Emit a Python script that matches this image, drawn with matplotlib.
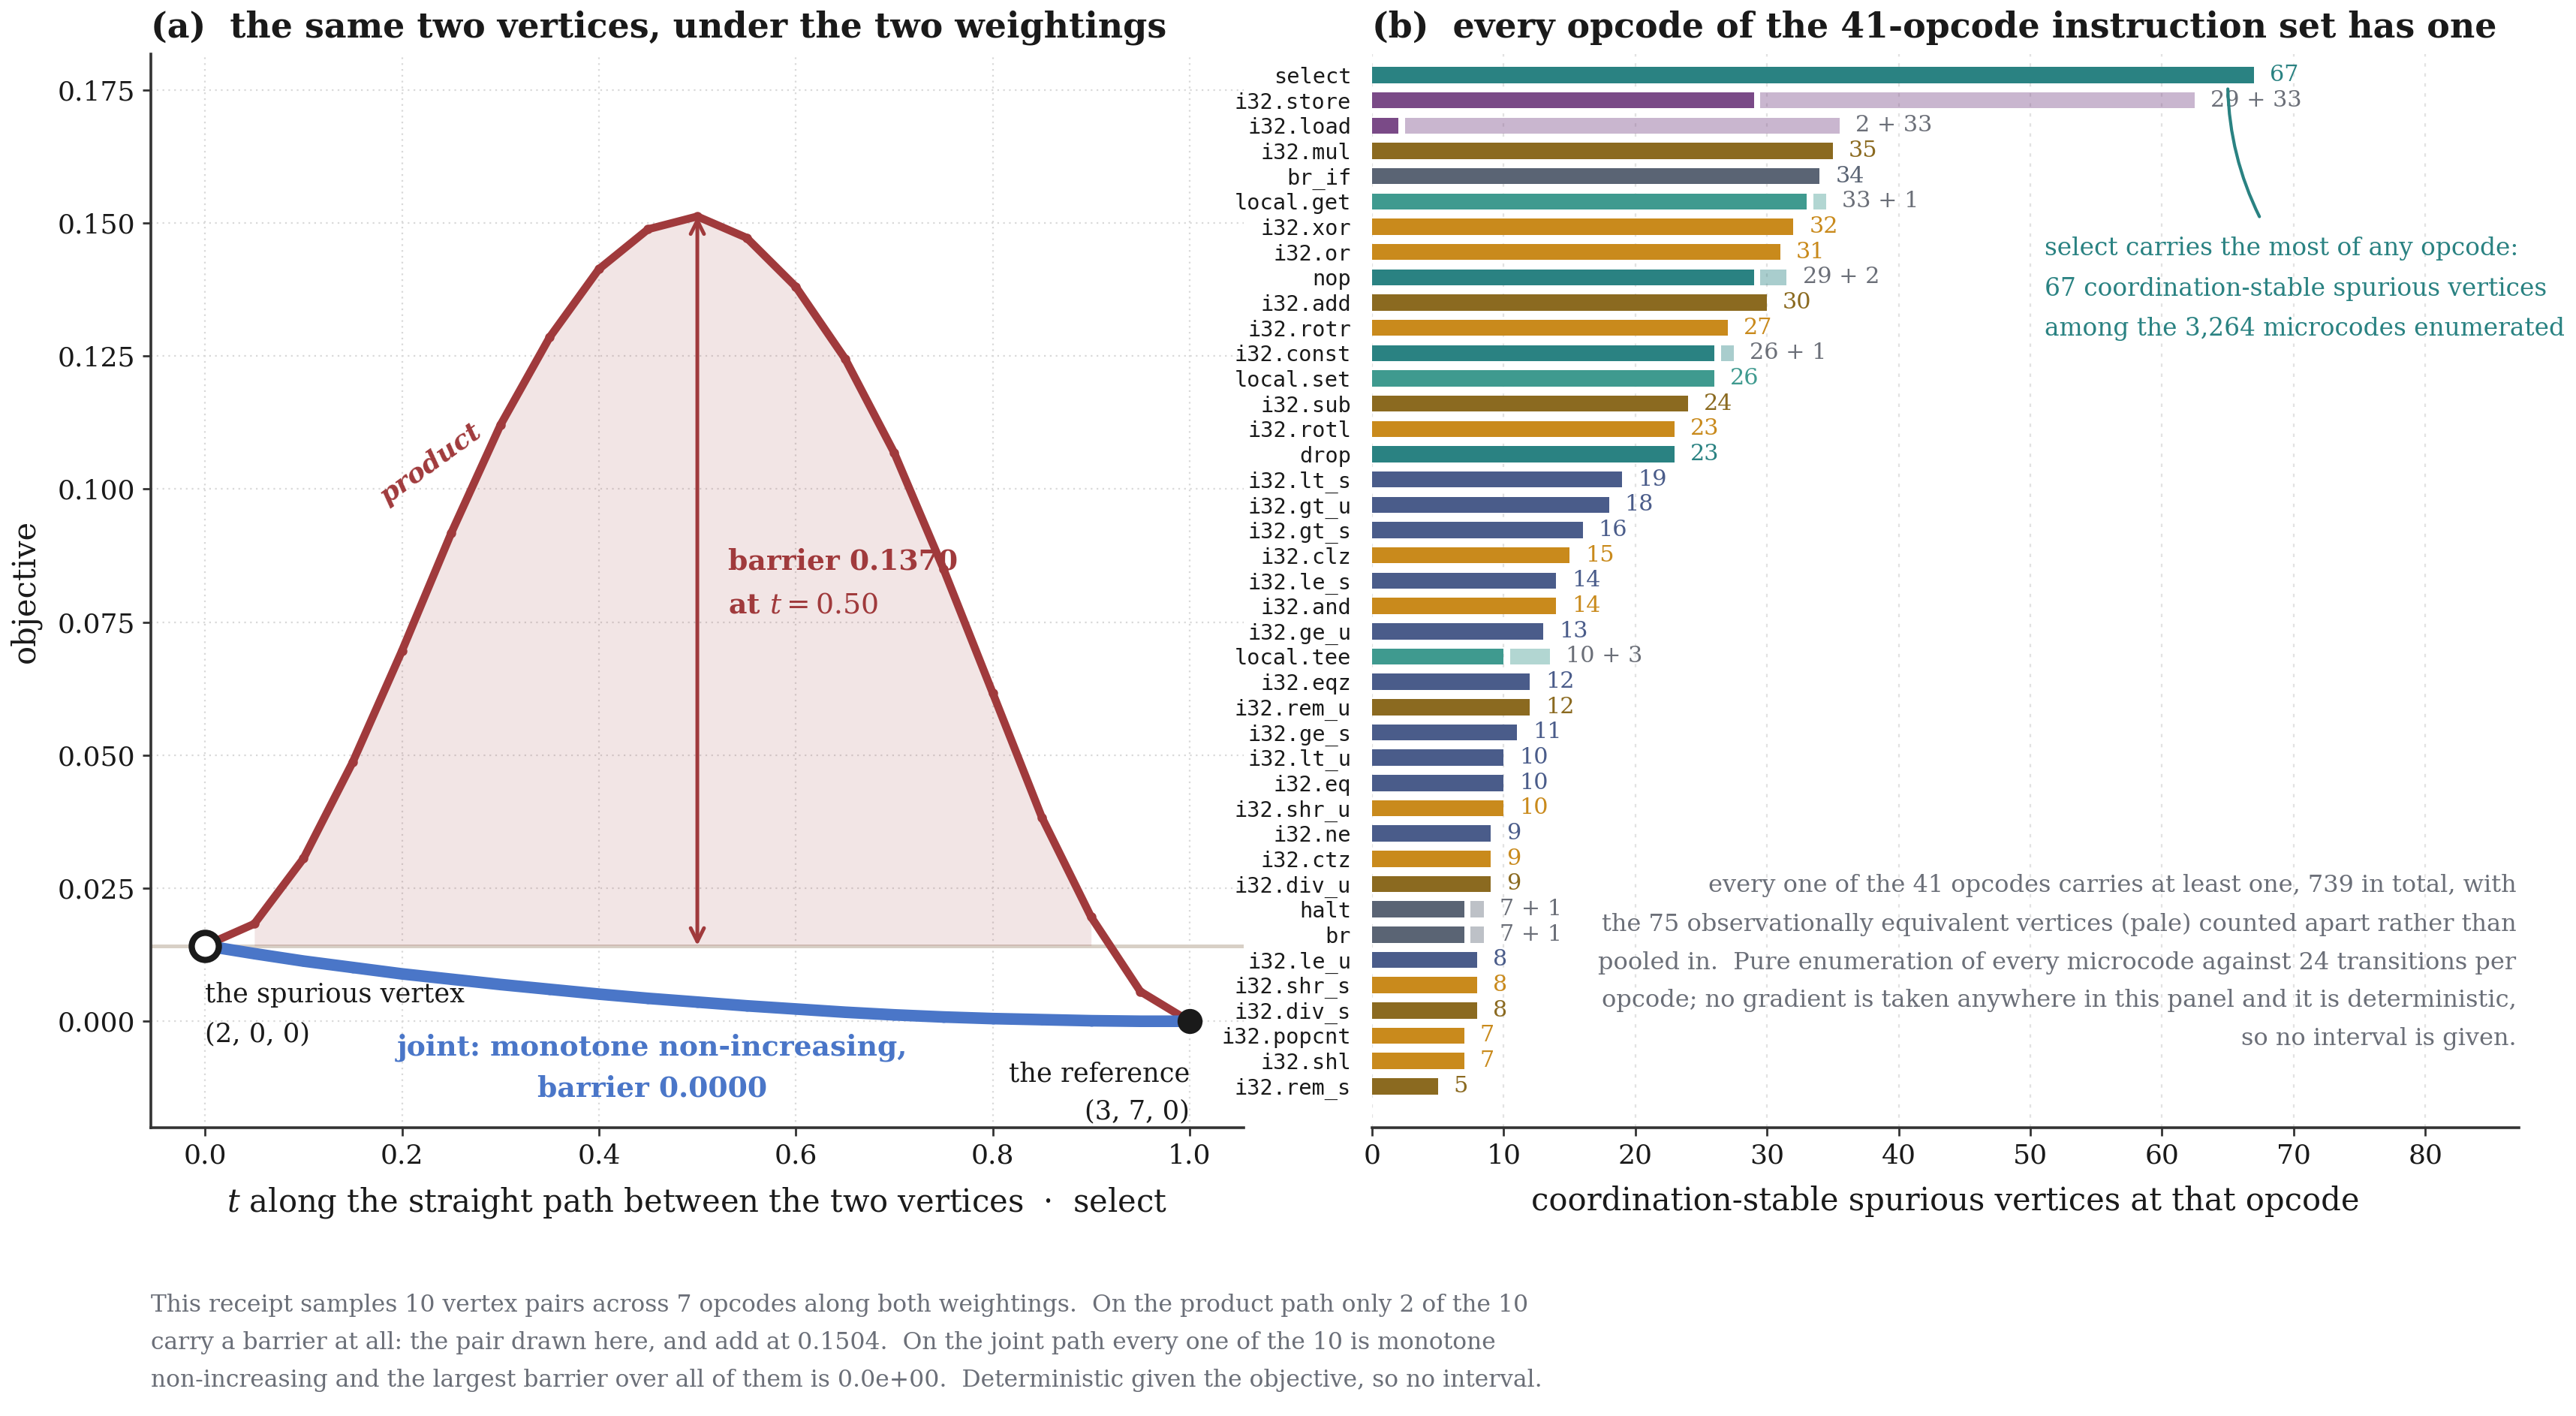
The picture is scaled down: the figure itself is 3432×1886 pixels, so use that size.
import matplotlib
matplotlib.use('Agg')
import matplotlib.pyplot as plt

plt.rcParams['font.family'] = ['DejaVu Serif']
plt.rcParams['mathtext.fontset'] = 'dejavuserif'

# ---------------- data: panel (a) ----------------
t_vals = [0.00, 0.05, 0.10, 0.15, 0.20, 0.25, 0.30, 0.35, 0.40, 0.45, 0.50,
          0.55, 0.60, 0.65, 0.70, 0.75, 0.80, 0.85, 0.90, 0.95, 1.00]
product_vals = [0.0142, 0.0183, 0.0306, 0.0487, 0.0696, 0.0917, 0.1120, 0.1285,
                0.1413, 0.1488, 0.1512, 0.1472, 0.1380, 0.1245, 0.1068, 0.0850,
                0.0617, 0.0383, 0.0196, 0.0056, 0.0000]
joint_vals = [0.0142, 0.0127, 0.0113, 0.0101, 0.0089, 0.0079, 0.0069, 0.0060,
              0.0051, 0.0043, 0.0036, 0.0029, 0.0023, 0.0017, 0.0012, 0.0008,
              0.0005, 0.0003, 0.0001, 0.0000, 0.0000]
start_value = 0.0142
barrier_t = 0.50
barrier_peak = 0.1512

# ---------------- data: panel (b) ----------------
opcodes = ["select", "i32.store", "i32.load", "i32.mul", "br_if", "local.get",
           "i32.xor", "i32.or", "nop", "i32.add", "i32.rotr", "i32.const",
           "local.set", "i32.sub", "i32.rotl", "drop", "i32.lt_s", "i32.gt_u",
           "i32.gt_s", "i32.clz", "i32.le_s", "i32.and", "i32.ge_u", "local.tee",
           "i32.eqz", "i32.rem_u", "i32.ge_s", "i32.lt_u", "i32.eq", "i32.shr_u",
           "i32.ne", "i32.ctz", "i32.div_u", "halt", "br", "i32.le_u",
           "i32.shr_s", "i32.div_s", "i32.popcnt", "i32.shl", "i32.rem_s"]
main_counts = [67, 29, 2, 35, 34, 33, 32, 31, 29, 30, 27, 26, 26, 24, 23, 23,
               19, 18, 16, 15, 14, 14, 13, 10, 12, 12, 11, 10, 10, 10, 9, 9, 9,
               7, 7, 8, 8, 8, 7, 7, 5]
pale_counts = [0, 33, 33, 0, 0, 1, 0, 0, 2, 0, 0, 1, 0, 0, 0, 0,
               0, 0, 0, 0, 0, 0, 0, 3, 0, 0, 0, 0, 0, 0, 0, 0, 0,
               1, 1, 0, 0, 0, 0, 0, 0]
groups = ["teal", "purple", "purple", "brown", "slate", "tealgreen",
          "orange", "orange", "teal", "brown", "orange", "teal",
          "tealgreen", "brown", "orange", "teal", "blue", "blue",
          "blue", "orange", "blue", "orange", "blue", "tealgreen",
          "blue", "brown", "blue", "blue", "blue", "orange",
          "blue", "orange", "brown", "slate", "slate", "blue",
          "orange", "brown", "orange", "orange", "brown"]

group_colors = {"teal": "#2a8282", "tealgreen": "#3f9a8f", "purple": "#7a4a87",
                "brown": "#8b6a20", "orange": "#c98a1c", "slate": "#5a6474",
                "blue": "#4a5c8a"}

RED = "#a03a3c"
BLUE = "#4a76c8"
GRAY = "#6b6f78"
DARK = "#1a1a1a"
TEAL = "#2a8282"

fig = plt.figure(figsize=(17.16, 9.43), dpi=200)

# ================= panel (a) =================
ax = fig.add_axes([0.0586, 0.2036, 0.4242, 0.7582])
ax.set_xlim(-0.055, 1.055)
ax.set_ylim(-0.020, 0.1817)
ax.grid(True, linestyle=(0, (1, 2.5)), color="#d9d9d9", linewidth=0.8)
ax.set_axisbelow(True)
for s in ["top", "right"]:
    ax.spines[s].set_visible(False)
for s in ["left", "bottom"]:
    ax.spines[s].set_color("#333333")
    ax.spines[s].set_linewidth(1.3)
ax.tick_params(axis="both", labelsize=13, colors="#333333", labelcolor=DARK,
               length=4, width=1.0)
ax.set_yticks([0.000, 0.025, 0.050, 0.075, 0.100, 0.125, 0.150, 0.175])
ax.set_yticklabels(["0.000", "0.025", "0.050", "0.075", "0.100", "0.125", "0.150", "0.175"])
ax.set_xticks([0.0, 0.2, 0.4, 0.6, 0.8, 1.0])

ax.axhline(start_value, color="#d8d0c6", linewidth=1.8, zorder=1)
base_line = [start_value] * len(t_vals)
ax.fill_between(t_vals, product_vals, base_line,
                where=[p > start_value for p in product_vals],
                color=RED, alpha=0.13, linewidth=0, zorder=1)
ax.plot(t_vals, product_vals, color=RED, linewidth=3.8, marker="o",
        markersize=3.5, zorder=3)
ax.plot(t_vals, joint_vals, color=BLUE, linewidth=5.6, marker="o",
        markersize=4.0, zorder=3, solid_capstyle="round")

ax.annotate("", xy=(barrier_t, barrier_peak), xytext=(barrier_t, start_value),
            arrowprops=dict(arrowstyle="<->", color=RED, lw=1.8,
                            shrinkA=0, shrinkB=0, mutation_scale=16), zorder=4)
ax.text(0.531, 0.0863, "barrier 0.1370", color=RED, fontsize=13.6,
        fontweight="bold", va="center", ha="left")
ax.text(0.531, 0.0782, "at $t = 0.50$", color=RED, fontsize=13.6,
        fontweight="bold", va="center", ha="left")
ax.text(0.229, 0.1047, "product", color=RED, fontsize=13, fontweight="bold",
        fontstyle="italic", rotation=36, ha="center", va="center")
ax.text(0.454, -0.0049, "joint: monotone non-increasing,", color=BLUE,
        fontsize=13.6, fontweight="bold", ha="center", va="center")
ax.text(0.454, -0.0126, "barrier 0.0000", color=BLUE,
        fontsize=13.6, fontweight="bold", ha="center", va="center")

ax.plot([t_vals[0]], [start_value], marker="o", markersize=13,
        markerfacecolor="white", markeredgecolor=DARK, markeredgewidth=3.0,
        zorder=5, linestyle="none")
ax.plot([t_vals[-1]], [joint_vals[-1]], marker="o", markersize=11,
        color=DARK, zorder=5, linestyle="none")
ax.text(0.0, 0.0049, "the spurious vertex", color=DARK, fontsize=12.7,
        ha="left", va="center")
ax.text(0.0, -0.0025, "(2, 0, 0)", color=DARK, fontsize=12.7,
        ha="left", va="center")
ax.text(1.0, -0.0099, "the reference", color=DARK, fontsize=12.7,
        ha="right", va="center")
ax.text(1.0, -0.0169, "(3, 7, 0)", color=DARK, fontsize=12.7,
        ha="right", va="center")

ax.set_ylabel("objective", fontsize=15, color=DARK, labelpad=8)
ax.set_xlabel("$t$ along the straight path between the two vertices  ·  select",
              fontsize=15, color=DARK, labelpad=8)
ax.set_title("(a)  the same two vertices, under the two weightings",
             loc="left", fontsize=16.5, fontweight="bold", color=DARK, pad=8)

# ================= panel (b) =================
bx = fig.add_axes([0.5326, 0.2036, 0.4452, 0.7582])
n = len(opcodes)
ypos = list(range(n))
bar_h = 0.64
bar_colors = [group_colors[g] for g in groups]
bx.barh(ypos, main_counts, height=bar_h, color=bar_colors, zorder=2)
for i in range(n):
    m = main_counts[i]
    p = pale_counts[i]
    c = bar_colors[i]
    if p > 0:
        bx.barh(i, p, left=m + 0.5, height=bar_h, color=c, alpha=0.4,
                linewidth=0, zorder=2)
        bx.text(m + 0.5 + p + 1.2, i, f"{m} + {p}", color=GRAY, fontsize=10.9,
                va="center", ha="left")
    else:
        bx.text(m + 1.2, i, f"{m}", color=c, fontsize=10.9, va="center", ha="left")

bx.set_xlim(0, 87.1)
bx.set_ylim(41.64, -0.83)
bx.set_yticks(ypos)
bx.set_yticklabels(opcodes, family=["DejaVu Sans Mono"], fontsize=10.3, color=DARK)
bx.tick_params(axis="y", length=0, pad=10)
bx.set_xticks([0, 10, 20, 30, 40, 50, 60, 70, 80])
bx.tick_params(axis="x", labelsize=13, colors="#333333", labelcolor=DARK,
               length=4, width=1.0)
bx.grid(True, axis="x", linestyle=(0, (2, 4)), color="#e2e2e2", linewidth=0.8)
bx.set_axisbelow(True)
for s in ["top", "right", "left"]:
    bx.spines[s].set_visible(False)
bx.spines["bottom"].set_color("#333333")
bx.spines["bottom"].set_linewidth(1.3)
bx.set_xlabel("coordination-stable spurious vertices at that opcode",
              fontsize=15, color=DARK, labelpad=8)
bx.set_title("(b)  every opcode of the 41-opcode instruction set has one",
             loc="left", fontsize=16.5, fontweight="bold", color=DARK, pad=8)

bx.text(51.1, 8.45, "select carries the most of any opcode:\n"
        "67 coordination-stable spurious vertices\n"
        "among the 3,264 microcodes enumerated",
        color=TEAL, fontsize=11.8, ha="left", va="center", linespacing=1.87)
bx.annotate("", xy=(65.0, 0.55), xytext=(67.4, 5.6),
            arrowprops=dict(arrowstyle="-", color=TEAL, lw=1.5,
                            shrinkA=0, shrinkB=0,
                            connectionstyle="arc3,rad=-0.11"))

bx.text(86.9, 35.1,
        "every one of the 41 opcodes carries at least one, 739 in total, with\n"
        "the 75 observationally equivalent vertices (pale) counted apart rather than\n"
        "pooled in.  Pure enumeration of every microcode against 24 transitions per\n"
        "opcode; no gradient is taken anywhere in this panel and it is deterministic,\n"
        "so no interval is given.",
        color=GRAY, fontsize=11.5, ha="right", va="center", multialignment="right",
        linespacing=1.83)

# ================= footer =================
fig.text(0.0586, 0.0518,
         "This receipt samples 10 vertex pairs across 7 opcodes along both weightings.  "
         "On the product path only 2 of the 10\n"
         "carry a barrier at all: the pair drawn here, and add at 0.1504.  "
         "On the joint path every one of the 10 is monotone\n"
         "non-increasing and the largest barrier over all of them is 0.0e+00.  "
         "Deterministic given the objective, so no interval.",
         color=GRAY, fontsize=11.3, ha="left", va="center", linespacing=1.8)

fig.savefig("out.png", dpi=200)
